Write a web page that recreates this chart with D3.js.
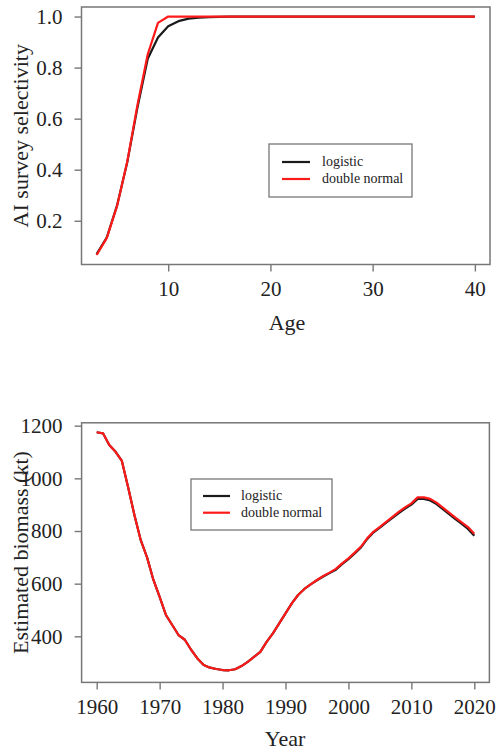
<!DOCTYPE html>
<html>
<head>
<meta charset="utf-8">
<script src="https://cdn.jsdelivr.net/npm/d3@7"></script>
<style>
  html, body { margin: 0; padding: 0; background: #fff; }
  svg text { font-family: "Liberation Serif", "Times New Roman", serif; fill: #222; }
</style>
</head>
<body>
<svg id="chart" width="500" height="750"></svg>
<script>
// Age-based survey selectivity
const ages = [3, 4, 5, 6, 7, 8, 9, 10, 11, 12, 13, 14, 15, 16, 17, 18, 19, 20, 21, 22,
              23, 24, 25, 26, 27, 28, 29, 30, 31, 32, 33, 34, 35, 36, 37, 38, 39, 40];
const selLogistic = [0.069, 0.135, 0.260, 0.430, 0.645, 0.835, 0.918, 0.962, 0.982, 0.992,
                     0.996, 0.998, 0.999, 1, 1, 1, 1, 1, 1, 1,
                     1, 1, 1, 1, 1, 1, 1, 1, 1, 1,
                     1, 1, 1, 1, 1, 1, 1, 1];
const selDoubleNormal = [0.066, 0.133, 0.258, 0.432, 0.655, 0.852, 0.975, 1, 1, 1,
                         1, 1, 1, 1, 1, 1, 1, 1, 1, 1,
                         1, 1, 1, 1, 1, 1, 1, 1, 1, 1,
                         1, 1, 1, 1, 1, 1, 1, 1];
const selTicksX = [10, 20, 30, 40];
const selTicksY = [0.2, 0.4, 0.6, 0.8, 1.0];

// Estimated biomass (kt) by year
const years = [1960, 1961, 1962, 1963, 1964, 1965, 1966, 1967, 1968, 1969,
               1970, 1971, 1972, 1973, 1974, 1975, 1976, 1977, 1978, 1979,
               1980, 1981, 1982, 1983, 1984, 1985, 1986, 1987, 1988, 1989,
               1990, 1991, 1992, 1993, 1994, 1995, 1996, 1997, 1998, 1999,
               2000, 2001, 2002, 2003, 2004, 2005, 2006, 2007, 2008, 2009,
               2010, 2011, 2012, 2013, 2014, 2015, 2016, 2017, 2018, 2019, 2020];
const bioDoubleNormal = [1175, 1171, 1127, 1101, 1066, 965, 860, 765, 700, 615,
                         550, 481, 443, 405, 387, 349, 316, 291, 281, 276,
                         272, 271, 275, 287, 303, 322, 341, 379, 411, 449,
                         487, 525, 557, 580, 597, 614, 629, 642, 656, 677,
                         696, 718, 741, 773, 798, 816, 835, 854, 873, 890,
                         905, 928, 928, 922, 908, 889, 870, 851, 833, 815, 790];
const bioLogistic = [1175, 1171, 1127, 1101, 1066, 965, 860, 765, 700, 615,
                     550, 481, 443, 405, 387, 349, 316, 291, 281, 276,
                     272, 271, 275, 287, 303, 322, 341, 379, 411, 449,
                     487, 525, 557, 580, 597, 613, 627, 640, 653, 674,
                     693, 715, 738, 770, 795, 813, 832, 850, 868, 885,
                     900, 922, 922, 916, 902, 883, 864, 845, 827, 808, 782];
const bioTicksX = [1960, 1970, 1980, 1990, 2000, 2010, 2020];
const bioTicksY = [400, 600, 800, 1000, 1200];

const seriesNames = ["logistic", "double normal"];
const seriesColors = ["#1a1a1a", "#ff1a1a"];

const svg = d3.select("#chart");

function panel(cfg) {
  const g = svg.append("g");
  const x = cfg.x, y = cfg.y;
  const [x0, x1] = x.range();
  const [y0, y1] = y.range();

  // axes with outward ticks
  const ax = g.append("g")
    .attr("transform", `translate(0,${y0})`)
    .call(d3.axisBottom(x).tickValues(cfg.ticksX).tickSize(7).tickSizeOuter(0).tickPadding(10)
      .tickFormat(cfg.fmtX));
  const ay = g.append("g")
    .attr("transform", `translate(${x0},0)`)
    .call(d3.axisLeft(y).tickValues(cfg.ticksY).tickSize(7).tickSizeOuter(0).tickPadding(12)
      .tickFormat(cfg.fmtY));
  [ax, ay].forEach(a => {
    a.select(".domain").remove();
    a.selectAll(".tick line").attr("stroke", "#777").attr("stroke-width", 1.4);
    a.selectAll(".tick text").attr("font-size", 21).style("font-family", "Liberation Serif, serif").attr("fill", "#222");
  });

  // plot box
  g.append("rect")
    .attr("x", x0).attr("y", y1)
    .attr("width", x1 - x0).attr("height", y0 - y1)
    .attr("fill", "none").attr("stroke", "#777").attr("stroke-width", 1.5);

  // axis titles
  g.append("text")
    .attr("x", cfg.xTitlePos[0]).attr("y", cfg.xTitlePos[1])
    .attr("text-anchor", "middle").attr("font-size", 22)
    .text(cfg.xTitle);
  g.append("text")
    .attr("transform", `translate(28,${(y0 + y1) / 2}) rotate(-90)`)
    .attr("text-anchor", "middle").attr("font-size", 22)
    .text(cfg.yTitle);

  // curves
  const line = d3.line().x(d => x(d[0])).y(d => y(d[1]));
  cfg.series.forEach((vals, i) => {
    g.append("path")
      .datum(cfg.xs.map((v, j) => [v, vals[j]]))
      .attr("d", line)
      .attr("fill", "none")
      .attr("stroke", seriesColors[i])
      .attr("stroke-width", 2.2)
      .attr("stroke-linejoin", "round");
  });

  // legend
  const L = cfg.legend;
  const lg = g.append("g").attr("transform", `translate(${L.x},${L.y})`);
  lg.append("rect").attr("width", L.w).attr("height", L.h)
    .attr("fill", "#fff").attr("stroke", "#777").attr("stroke-width", 1.3);
  seriesNames.forEach((name, i) => {
    const yy = L.row0 + i * L.dy;
    lg.append("line")
      .attr("x1", L.lx0).attr("x2", L.lx1).attr("y1", yy).attr("y2", yy)
      .attr("stroke", seriesColors[i]).attr("stroke-width", 2.2);
    lg.append("text")
      .attr("x", L.tx).attr("y", yy).attr("dy", "0.32em")
      .attr("font-size", 14).attr("fill", "#333")
      .text(name);
  });
}

// top panel: selectivity vs age
panel({
  x: d3.scaleLinear().domain([1.52, 41.48]).range([81.5, 490]),
  y: d3.scaleLinear().domain([0.0286, 1.0374]).range([264.5, 7]),
  xs: ages,
  series: [selLogistic, selDoubleNormal],
  ticksX: selTicksX, ticksY: selTicksY,
  fmtX: d3.format("d"), fmtY: d3.format(".1f"),
  xTitle: "Age", yTitle: "AI survey selectivity",
  xTitlePos: [287, 330],
  legend: { x: 269, y: 144, w: 143, h: 53, row0: 18, dy: 17, lx0: 13, lx1: 41, tx: 53 }
});

// bottom panel: biomass vs year
panel({
  x: d3.scaleLinear().domain([1957.6, 2022.4]).range([81.6, 489.4]),
  y: d3.scaleLinear().domain([225, 1211]).range([682.4, 422.8]),
  xs: years,
  series: [bioLogistic, bioDoubleNormal],
  ticksX: bioTicksX, ticksY: bioTicksY,
  fmtX: d3.format("d"), fmtY: d3.format("d"),
  xTitle: "Year", yTitle: "Estimated biomass (kt)",
  xTitlePos: [285, 746],
  legend: { x: 191, y: 479, w: 141, h: 51, row0: 17, dy: 16.7, lx0: 12, lx1: 39, tx: 50 }
});
</script>
</body>
</html>
